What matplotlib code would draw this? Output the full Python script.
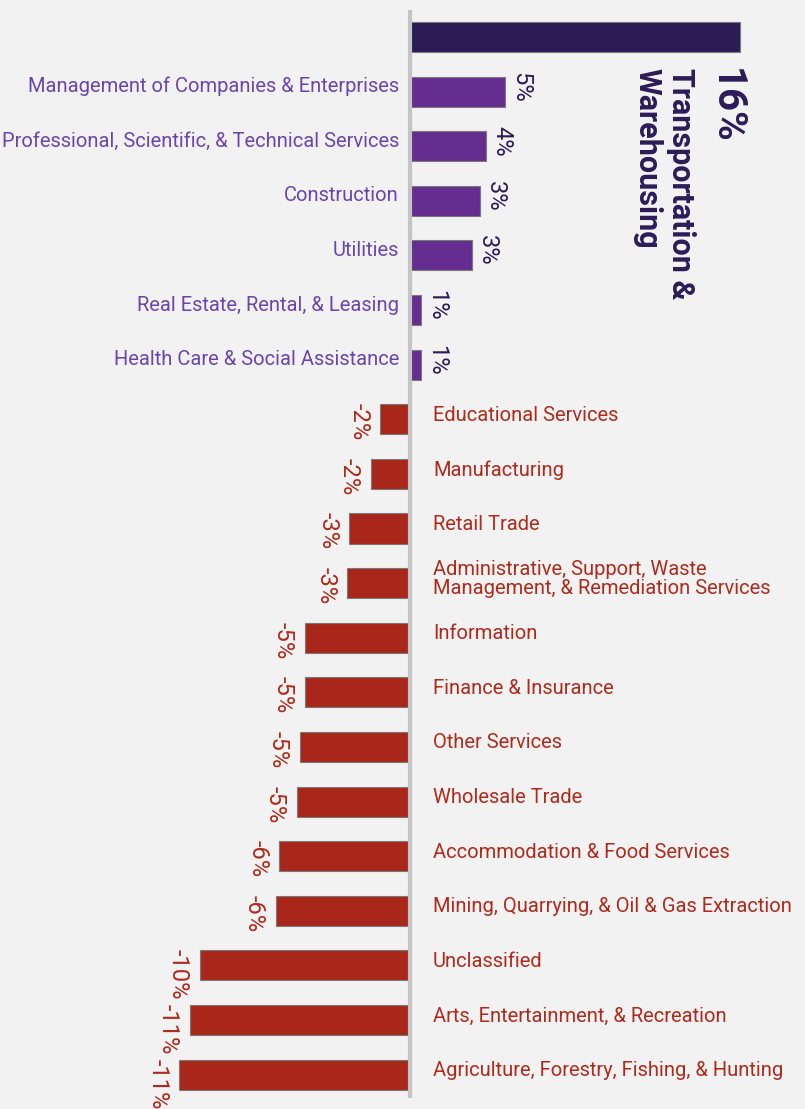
import matplotlib.pyplot as plt
import numpy as np

plt.rcParams['font.family'] = ['Roboto', 'DejaVu Sans']

# data, top to bottom
categories = [
    "Transportation & Warehousing",
    "Management of Companies & Enterprises",
    "Professional, Scientific, & Technical Services",
    "Construction",
    "Utilities",
    "Real Estate, Rental, & Leasing",
    "Health Care & Social Assistance",
    "Educational Services",
    "Manufacturing",
    "Retail Trade",
    "Administrative, Support, Waste\nManagement, & Remediation Services",
    "Information",
    "Finance & Insurance",
    "Other Services",
    "Wholesale Trade",
    "Accommodation & Food Services",
    "Mining, Quarrying, & Oil & Gas Extraction",
    "Unclassified",
    "Arts, Entertainment, & Recreation",
    "Agriculture, Forestry, Fishing, & Hunting",
]
values = [16.0, 4.6, 3.7, 3.4, 3.0, 0.55, 0.55, -1.45, -1.9, -2.95, -3.05,
          -5.1, -5.1, -5.35, -5.5, -6.35, -6.5, -10.2, -10.7, -11.2]
value_labels = ["16%", "5%", "4%", "3%", "3%", "1%", "1%", "-2%", "-2%", "-3%", "-3%",
                "-5%", "-5%", "-5%", "-5%", "-6%", "-6%", "-10%", "-11%", "-11%"]

bg = "#f2f2f2"
navy = "#2b1b57"
purple = "#662d91"
purple_txt = "#6a45ad"
red = "#a9271a"
red_txt = "#b02a1c"

fig = plt.figure(figsize=(8.05, 11.09), dpi=100, facecolor=bg)
ax = fig.add_axes([0, 0, 1, 1], facecolor=bg)

ypos = np.arange(len(values))
colors = [navy] + [purple if v > 0 else red for v in values[1:]]
h = 0.55
ax.barh(ypos, values, height=h, color=colors, edgecolor="#7a7a7a", linewidth=0.8, zorder=2)

# zero line
ax.vlines(0, -0.49, 19.43, color="#c4c4c4", linewidth=3, zorder=3)

for i, (cat, v, lab) in enumerate(zip(categories, values, value_labels)):
    if i == 0:
        # big label for the top bar
        ax.annotate(lab, xy=(v, i + h / 2), xytext=(5, -16), textcoords="offset pixels",
                    rotation=-90, ha="right", va="top", fontsize=29, fontweight="bold", color=navy)
        ax.annotate("Transportation &\nWarehousing", xy=(v, i + h / 2), xytext=(-44, -16),
                    textcoords="offset pixels", rotation=-90, ha="right", va="top",
                    multialignment="left", fontsize=22, fontweight="bold", color=navy,
                    linespacing=1.15)
        continue
    if v > 0:
        ax.annotate(cat, xy=(0, i), xytext=(-11, 5), textcoords="offset pixels",
                    ha="right", va="center", fontsize=14.5, color=purple_txt)
        ax.annotate(lab, xy=(v, i - h / 2), xytext=(4, 5), textcoords="offset pixels",
                    rotation=-90, ha="left", va="top", fontsize=17, color=navy)
    else:
        ax.annotate(cat, xy=(0, i), xytext=(23, 4), textcoords="offset pixels",
                    ha="left", va="center", fontsize=14.5, color=red_txt, linespacing=0.95)
        ax.annotate(lab, xy=(v, i - h / 2), xytext=(-10, 1), textcoords="offset pixels",
                    rotation=-90, ha="right", va="top", fontsize=17, color=red_txt)

ax.set_xlim(-410 / 20.6, 395 / 20.6)
ax.set_ylim(19.63, -0.678)
ax.axis("off")

fig.savefig("out.png", dpi=100, facecolor=bg)
